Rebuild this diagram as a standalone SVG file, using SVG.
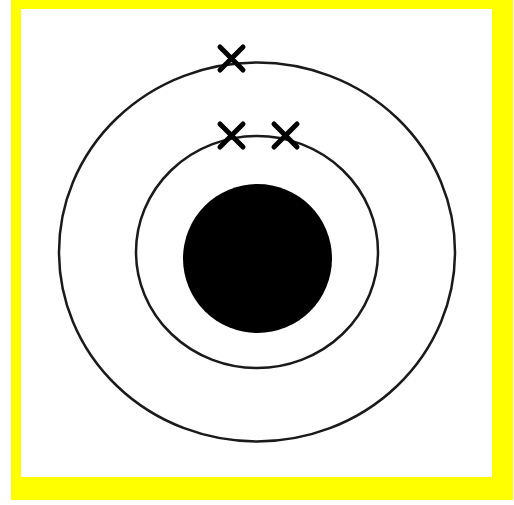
<svg xmlns="http://www.w3.org/2000/svg" width="514" height="505" viewBox="0 0 514 505">
<style>
.ring{fill:none;stroke:#1a1a1a;stroke-width:2.5}
.x{stroke:#000;stroke-width:5;stroke-linecap:round}
</style>
<rect x="0" y="0" width="514" height="505" fill="#ffffff"/>
<rect x="11" y="0" width="502" height="500" fill="#ffff00"/>
<rect x="21" y="9" width="471" height="468" fill="#ffffff"/>
<g id="outer-shell"><ellipse class="ring" cx="257" cy="252" rx="198" ry="189.5"/></g>
<g id="inner-shell"><ellipse class="ring" cx="257" cy="252" rx="121" ry="116"/></g>
<g id="nucleus"><circle cx="257.5" cy="258.5" r="74.5" fill="#000"/></g>
<g id="electrons">
<g id="e1"><path class="x" d="M220 47 L243 70 M243 47 L220 70"/></g>
<g id="e2"><path class="x" d="M220 124 L243 147 M243 124 L220 147"/></g>
<g id="e3"><path class="x" d="M274 124 L297 147 M297 124 L274 147"/></g>
</g>
</svg>
